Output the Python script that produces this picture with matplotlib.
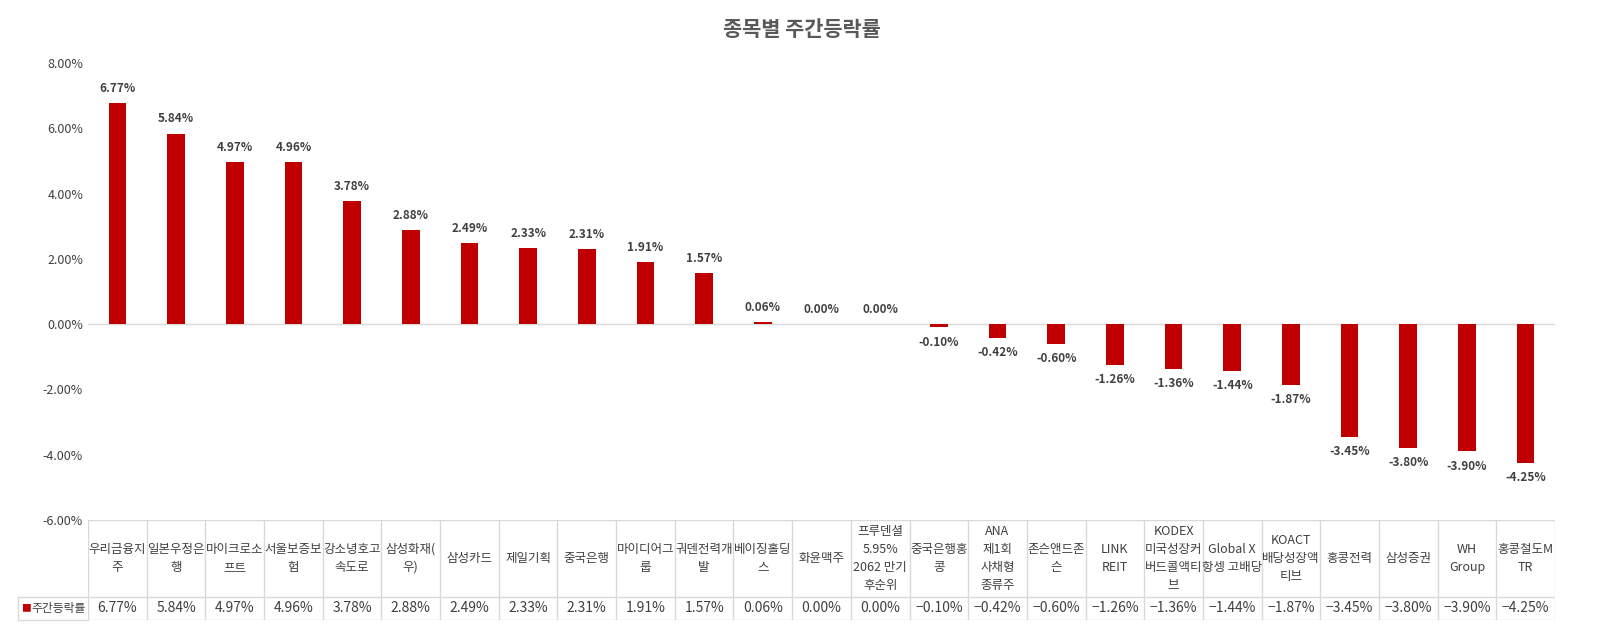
import matplotlib.pyplot as plt
import numpy as np

plt.rcParams['font.family'] = ['Noto Sans CJK KR', 'DejaVu Sans']

labels = ['우리금융지\n주', '일본우정은\n행', '마이크로소\n프트', '서울보증보\n험', '강소녕호고\n속도로',
          '삼성화재(\n우)', '삼성카드', '제일기획', '중국은행', '마이디어그\n룹', '궈덴전력개\n발',
          '베이징홀딩\n스', '화윤맥주', '프루덴셜\n5.95%\n2062 만기\n후순위', '중국은행홍\n콩',
          'ANA\n제1회\n사채형\n종류주', '존슨앤드존\n슨', 'LINK\nREIT', 'KODEX\n미국성장커\n버드콜액티\n브',
          'Global X\n항셍 고배당', 'KOACT\n배당성장액\n티브', '홍콩전력', '삼성증권', 'WH\nGroup', '홍콩철도M\nTR']
values = [6.77, 5.84, 4.97, 4.96, 3.78, 2.88, 2.49, 2.33, 2.31, 1.91, 1.57, 0.06, 0.00, 0.00,
          -0.10, -0.42, -0.60, -1.26, -1.36, -1.44, -1.87, -3.45, -3.80, -3.90, -4.25]
series_name = '주간등락률'

W, H = 1603, 642
fig = plt.figure(figsize=(W / 100, H / 100), dpi=100)
x0, x1 = 88, 1555
ax = fig.add_axes([x0 / W, 1 - 520 / H, (x1 - x0) / W, (520 - 63) / H])
n = len(values)
x = np.arange(n)
ax.bar(x, values, width=0.3, color='#c00000', zorder=3)
ax.set_xlim(-0.5, n - 0.5)
ax.set_ylim(-6, 8)
ax.set_yticks(np.arange(-6, 9, 2))
ax.set_yticklabels([f'{v:.2f}%' for v in np.arange(-6, 9, 2)], fontsize=9, color='#404040')
ax.tick_params(axis='y', length=0)
ax.set_xticks([])
for s in ax.spines.values():
    s.set_visible(False)
ax.axhline(0, color='#d9d9d9', lw=1, zorder=2)
for xi, v in zip(x, values):
    off = 0.25 if v >= 0 else -0.25
    ax.text(xi, v + off, f'{v:.2f}%', ha='center', va='bottom' if v >= 0 else 'top',
            fontsize=8.5, fontweight='bold', color='#404040')
fig.text(0.5, 1 - 30 / H, '종목별 주간등락률', ha='center', va='center', fontsize=15,
         fontweight='bold', color='#595959')

# data table
tb = fig.add_axes([x0 / W, 1 - 620 / H, (x1 - x0) / W, 100 / H])
tb.set_xlim(-0.5, n - 0.5)
tb.set_ylim(0, 100)
tb.axis('off')
lc = '#d9d9d9'
for yy in [100, 23, 0]:
    tb.plot([-0.5, n - 0.5], [yy, yy], color=lc, lw=1)
for i in range(n + 1):
    tb.plot([i - 0.5, i - 0.5], [0, 100], color=lc, lw=1)
for i in range(n):
    tb.text(i, 61.5, labels[i], ha='center', va='center', fontsize=9, color='#404040', linespacing=1.5)
    tb.text(i, 11.5, f'{values[i]:.2f}%'.replace('-', '−'), ha='center', va='center',
            fontsize=10, color='#404040')
lx = -0.5 - 70 / ((x1 - x0) / n)
tb.plot([lx, -0.5], [23, 23], color=lc, lw=1, clip_on=False)
tb.plot([lx, -0.5], [0, 0], color=lc, lw=1, clip_on=False)
tb.plot([lx, lx], [0, 23], color=lc, lw=1, clip_on=False)
tb.text(lx + 0.06, 11.5, '■', color='#c00000', fontsize=7, va='center', ha='left')
tb.text(lx + 0.22, 11.5, series_name, color='#404040', fontsize=8.5, va='center', ha='left')

fig.savefig('out.png', dpi=100)
